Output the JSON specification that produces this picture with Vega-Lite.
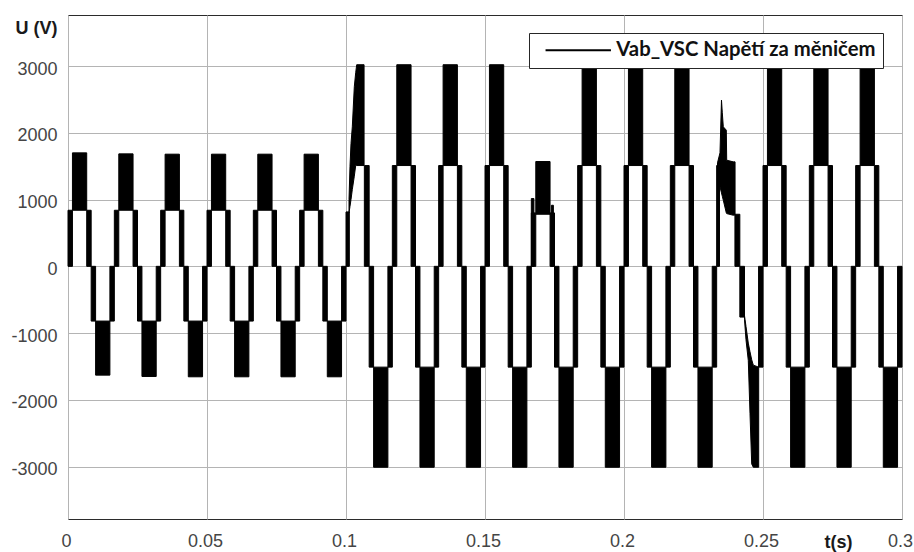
{
  "$schema": "https://vega.github.io/schema/vega-lite/v6.json",
  "autosize": {"type": "none"},
  "width": 834,
  "height": 504,
  "padding": {"left": 68, "top": 15, "right": 12, "bottom": 33},
  "background": "#ffffff",
  "config": {
    "view": {"stroke": "#2b2b2b", "strokeWidth": 1}
  },
  "datasets": {
    "bands": [
      {"t0": 0, "t1": 0.0016, "v0": 0, "v1": 840},
      {"t0": 0.0016, "t1": 0.00673, "v0": 840, "v1": 1700},
      {"t0": 0.00673, "t1": 0.00833, "v0": 0, "v1": 840},
      {"t0": 0.00833, "t1": 0.00993, "v0": -820, "v1": 0},
      {"t0": 0.00993, "t1": 0.01507, "v0": -1630, "v1": -820},
      {"t0": 0.01507, "t1": 0.01667, "v0": -820, "v1": 0},
      {"t0": 0.01667, "t1": 0.01827, "v0": 0, "v1": 840},
      {"t0": 0.01827, "t1": 0.0234, "v0": 840, "v1": 1685},
      {"t0": 0.0234, "t1": 0.025, "v0": 0, "v1": 840},
      {"t0": 0.025, "t1": 0.0266, "v0": -820, "v1": 0},
      {"t0": 0.0266, "t1": 0.03173, "v0": -1650, "v1": -820},
      {"t0": 0.03173, "t1": 0.03333, "v0": -820, "v1": 0},
      {"t0": 0.03333, "t1": 0.03493, "v0": 0, "v1": 840},
      {"t0": 0.03493, "t1": 0.04007, "v0": 840, "v1": 1680},
      {"t0": 0.04007, "t1": 0.04167, "v0": 0, "v1": 840},
      {"t0": 0.04167, "t1": 0.04327, "v0": -820, "v1": 0},
      {"t0": 0.04327, "t1": 0.0484, "v0": -1655, "v1": -820},
      {"t0": 0.0484, "t1": 0.05, "v0": -820, "v1": 0},
      {"t0": 0.05, "t1": 0.0516, "v0": 0, "v1": 840},
      {"t0": 0.0516, "t1": 0.05673, "v0": 840, "v1": 1680},
      {"t0": 0.05673, "t1": 0.05833, "v0": 0, "v1": 840},
      {"t0": 0.05833, "t1": 0.05993, "v0": -820, "v1": 0},
      {"t0": 0.05993, "t1": 0.06507, "v0": -1655, "v1": -820},
      {"t0": 0.06507, "t1": 0.06667, "v0": -820, "v1": 0},
      {"t0": 0.06667, "t1": 0.06827, "v0": 0, "v1": 840},
      {"t0": 0.06827, "t1": 0.0734, "v0": 840, "v1": 1680},
      {"t0": 0.0734, "t1": 0.075, "v0": 0, "v1": 840},
      {"t0": 0.075, "t1": 0.0766, "v0": -820, "v1": 0},
      {"t0": 0.0766, "t1": 0.08173, "v0": -1655, "v1": -820},
      {"t0": 0.08173, "t1": 0.08333, "v0": -820, "v1": 0},
      {"t0": 0.08333, "t1": 0.08493, "v0": 0, "v1": 840},
      {"t0": 0.08493, "t1": 0.09007, "v0": 840, "v1": 1680},
      {"t0": 0.09007, "t1": 0.09167, "v0": 0, "v1": 840},
      {"t0": 0.09167, "t1": 0.09327, "v0": -820, "v1": 0},
      {"t0": 0.09327, "t1": 0.0984, "v0": -1655, "v1": -820},
      {"t0": 0.0984, "t1": 0.1, "v0": -820, "v1": 0},

      {"t0": 0.1, "t1": 0.1012, "v0": 0, "v1": 815},
      {"t0": 0.1066, "t1": 0.10833, "v0": 0, "v1": 1510},
      {"t0": 0.10833, "t1": 0.10993, "v0": -1510, "v1": 0},
      {"t0": 0.10993, "t1": 0.11507, "v0": -3010, "v1": -1510},
      {"t0": 0.11507, "t1": 0.11667, "v0": -1510, "v1": 0},
      {"t0": 0.11667, "t1": 0.11827, "v0": 0, "v1": 1510},
      {"t0": 0.11827, "t1": 0.1234, "v0": 1510, "v1": 3020},
      {"t0": 0.1234, "t1": 0.125, "v0": 0, "v1": 1510},
      {"t0": 0.125, "t1": 0.1266, "v0": -1510, "v1": 0},
      {"t0": 0.1266, "t1": 0.13173, "v0": -3010, "v1": -1510},
      {"t0": 0.13173, "t1": 0.13333, "v0": -1510, "v1": 0},
      {"t0": 0.13333, "t1": 0.13493, "v0": 0, "v1": 1510},
      {"t0": 0.13493, "t1": 0.14007, "v0": 1510, "v1": 3020},
      {"t0": 0.14007, "t1": 0.14167, "v0": 0, "v1": 1510},
      {"t0": 0.14167, "t1": 0.14327, "v0": -1510, "v1": 0},
      {"t0": 0.14327, "t1": 0.1484, "v0": -3010, "v1": -1510},
      {"t0": 0.1484, "t1": 0.15, "v0": -1510, "v1": 0},
      {"t0": 0.15, "t1": 0.1516, "v0": 0, "v1": 1510},
      {"t0": 0.1516, "t1": 0.15673, "v0": 1510, "v1": 3020},
      {"t0": 0.15673, "t1": 0.15833, "v0": 0, "v1": 1510},
      {"t0": 0.15833, "t1": 0.15993, "v0": -1510, "v1": 0},
      {"t0": 0.15993, "t1": 0.16507, "v0": -3010, "v1": -1510},
      {"t0": 0.16507, "t1": 0.16667, "v0": -1510, "v1": 0},
      {"t0": 0.16667, "t1": 0.16827, "v0": 0, "v1": 800},
      {"t0": 0.16667, "t1": 0.1676, "v0": 0, "v1": 1015},
      {"t0": 0.16827, "t1": 0.1734, "v0": 780, "v1": 1570},
      {"t0": 0.1734, "t1": 0.175, "v0": 0, "v1": 800},
      {"t0": 0.1739, "t1": 0.1746, "v0": 0, "v1": 915},
      {"t0": 0.175, "t1": 0.1766, "v0": -1510, "v1": 0},
      {"t0": 0.1766, "t1": 0.18173, "v0": -3010, "v1": -1510},
      {"t0": 0.18173, "t1": 0.18333, "v0": -1510, "v1": 0},
      {"t0": 0.18333, "t1": 0.18493, "v0": 0, "v1": 1510},
      {"t0": 0.18493, "t1": 0.19007, "v0": 1510, "v1": 3020},
      {"t0": 0.19007, "t1": 0.19167, "v0": 0, "v1": 1510},
      {"t0": 0.19167, "t1": 0.19327, "v0": -1510, "v1": 0},
      {"t0": 0.19327, "t1": 0.1984, "v0": -3010, "v1": -1510},
      {"t0": 0.1984, "t1": 0.2, "v0": -1510, "v1": 0},
      {"t0": 0.2, "t1": 0.2016, "v0": 0, "v1": 1510},
      {"t0": 0.2016, "t1": 0.20673, "v0": 1510, "v1": 3020},
      {"t0": 0.20673, "t1": 0.20833, "v0": 0, "v1": 1510},
      {"t0": 0.20833, "t1": 0.20993, "v0": -1510, "v1": 0},
      {"t0": 0.20993, "t1": 0.21507, "v0": -3010, "v1": -1510},
      {"t0": 0.21507, "t1": 0.21667, "v0": -1510, "v1": 0},
      {"t0": 0.21667, "t1": 0.21827, "v0": 0, "v1": 1510},
      {"t0": 0.21827, "t1": 0.2234, "v0": 1510, "v1": 3020},
      {"t0": 0.2234, "t1": 0.225, "v0": 0, "v1": 1510},
      {"t0": 0.225, "t1": 0.2266, "v0": -1510, "v1": 0},
      {"t0": 0.2266, "t1": 0.23173, "v0": -3010, "v1": -1510},
      {"t0": 0.23173, "t1": 0.23333, "v0": -1510, "v1": 0},
      {"t0": 0.23333, "t1": 0.23435, "v0": 0, "v1": 1510},
      {"t0": 0.2399, "t1": 0.24167, "v0": 0, "v1": 780},
      {"t0": 0.24167, "t1": 0.24335, "v0": -760, "v1": 0},
      {"t0": 0.2484, "t1": 0.25, "v0": -1510, "v1": 0},
      {"t0": 0.25, "t1": 0.2516, "v0": 0, "v1": 1510},
      {"t0": 0.2516, "t1": 0.25673, "v0": 1510, "v1": 3020},
      {"t0": 0.25673, "t1": 0.25833, "v0": 0, "v1": 1510},
      {"t0": 0.25833, "t1": 0.25993, "v0": -1510, "v1": 0},
      {"t0": 0.25993, "t1": 0.26507, "v0": -3010, "v1": -1510},
      {"t0": 0.26507, "t1": 0.26667, "v0": -1510, "v1": 0},
      {"t0": 0.26667, "t1": 0.26827, "v0": 0, "v1": 1510},
      {"t0": 0.26827, "t1": 0.2734, "v0": 1510, "v1": 3020},
      {"t0": 0.2734, "t1": 0.275, "v0": 0, "v1": 1510},
      {"t0": 0.275, "t1": 0.2766, "v0": -1510, "v1": 0},
      {"t0": 0.2766, "t1": 0.28173, "v0": -3010, "v1": -1510},
      {"t0": 0.28173, "t1": 0.28333, "v0": -1510, "v1": 0},
      {"t0": 0.28333, "t1": 0.28493, "v0": 0, "v1": 1510},
      {"t0": 0.28493, "t1": 0.29007, "v0": 1510, "v1": 3020},
      {"t0": 0.29007, "t1": 0.29167, "v0": 0, "v1": 1510},
      {"t0": 0.29167, "t1": 0.29327, "v0": -1510, "v1": 0},
      {"t0": 0.29327, "t1": 0.2984, "v0": -3010, "v1": -1510},
      {"t0": 0.2984, "t1": 0.3, "v0": -1510, "v1": 0}
    ],
    "surges": [
      {"g": "T1", "t": 0.10108, "lo": 800, "hi": 1000},
      {"g": "T1", "t": 0.10144, "lo": 900, "hi": 1500},
      {"g": "T1", "t": 0.1018, "lo": 1000, "hi": 1840},
      {"g": "T1", "t": 0.10227, "lo": 1150, "hi": 2090},
      {"g": "T1", "t": 0.10299, "lo": 1350, "hi": 2690},
      {"g": "T1", "t": 0.10349, "lo": 1510, "hi": 2900},
      {"g": "T1", "t": 0.10385, "lo": 1510, "hi": 3020},
      {"g": "T1", "t": 0.1065, "lo": 1510, "hi": 3020},
      {"g": "T3", "t": 0.23363, "lo": 1300, "hi": 1550},
      {"g": "T3", "t": 0.23453, "lo": 1190, "hi": 1700},
      {"g": "T3", "t": 0.23507, "lo": 1100, "hi": 2490},
      {"g": "T3", "t": 0.23536, "lo": 1050, "hi": 2300},
      {"g": "T3", "t": 0.23572, "lo": 990, "hi": 2090},
      {"g": "T3", "t": 0.2368, "lo": 800, "hi": 2040},
      {"g": "T3", "t": 0.23694, "lo": 790, "hi": 1590},
      {"g": "T3", "t": 0.23932, "lo": 765, "hi": 1565},
      {"g": "T3", "t": 0.23995, "lo": 770, "hi": 1565},
      {"g": "T3b", "t": 0.24335, "lo": -800, "hi": -740},
      {"g": "T3b", "t": 0.24388, "lo": -1100, "hi": -900},
      {"g": "T3b", "t": 0.24471, "lo": -1410, "hi": -1150},
      {"g": "T3b", "t": 0.24532, "lo": -2200, "hi": -1280},
      {"g": "T3b", "t": 0.24594, "lo": -2960, "hi": -1400},
      {"g": "T3b", "t": 0.24651, "lo": -3010, "hi": -1480},
      {"g": "T3b", "t": 0.24845, "lo": -3010, "hi": -1510}
    ]
  },
  "layer": [
    {
      "data": {"name": "bands"},
      "mark": {"type": "rect", "stroke": "#000000", "strokeWidth": 1},
      "encoding": {
        "x": {
          "field": "t0",
          "type": "quantitative",
          "scale": {"domain": [0, 0.3], "nice": false, "zero": false},
          "axis": {
            "title": "t(s)",
            "values": [0, 0.05, 0.1, 0.15, 0.2, 0.25, 0.3],
            "format": "~g",
            "grid": true,
            "gridColor": "#b4b4b4",
            "gridWidth": 1,
            "ticks": false,
            "domain": false,
            "labelFont": "Liberation Sans",
            "labelFontSize": 18,
            "labelColor": "#454545",
            "labelPadding": 13,
            "labelFlush": false,
            "labelAlign": "center",
            "labelOffset": -2,
            "labelOverlap": false,
            "titleFont": "Liberation Sans",
            "titleFontSize": 18,
            "titleFontWeight": "bold",
            "titleColor": "#1a1a1a",
            "titleAlign": "center",
            "titleBaseline": "alphabetic",
            "titleX": 770,
            "titleY": 28
          }
        },
        "x2": {"field": "t1"},
        "y": {
          "field": "v0",
          "type": "quantitative",
          "scale": {"domain": [-3785, 3765], "nice": false, "zero": false},
          "axis": {
            "title": "U (V)",
            "values": [-3000, -2000, -1000, 0, 1000, 2000, 3000],
            "labelExpr": "datum.value < 0 ? '-' + abs(datum.value) : '' + datum.value",
            "grid": true,
            "gridColor": "#b4b4b4",
            "gridWidth": 1,
            "ticks": false,
            "domain": false,
            "labelFont": "Liberation Sans",
            "labelFontSize": 18,
            "labelColor": "#454545",
            "labelPadding": 11,
            "labelOffset": 3,
            "titleFont": "Liberation Sans",
            "titleFontSize": 18,
            "titleFontWeight": "bold",
            "titleColor": "#1a1a1a",
            "titleAngle": 0,
            "titleAlign": "right",
            "titleBaseline": "alphabetic",
            "titleX": -11,
            "titleY": 18
          }
        },
        "y2": {"field": "v1"},
        "color": {
          "datum": "Vab_VSC Napětí za měničem",
          "type": "nominal",
          "scale": {"range": ["#000000"]},
          "legend": {
            "title": null,
            "orient": "none",
            "legendX": 461,
            "legendY": 18,
            "symbolType": "M-0.1,0H10.8",
            "symbolSize": 144,
            "symbolStrokeWidth": 2,
            "symbolStrokeColor": "#000000",
            "symbolFillColor": "transparent",
            "labelFont": "Lato",
            "labelFontSize": 20.3,
            "labelFontWeight": "bold",
            "labelColor": "#111111",
            "labelOffset": 60,
            "labelLimit": 400,
            "padding": 7,
            "strokeColor": "#262626",
            "fillColor": "#ffffff",
            "cornerRadius": 0
          }
        }
      }
    },
    {
      "data": {"name": "surges"},
      "mark": {"type": "area", "color": "#000000", "stroke": "#000000", "strokeWidth": 1},
      "encoding": {
        "x": {"field": "t", "type": "quantitative", "title": "t(s)"},
        "y": {"field": "lo", "type": "quantitative", "title": "U (V)"},
        "y2": {"field": "hi"},
        "detail": {"field": "g", "type": "nominal"}
      }
    }
  ]
}
